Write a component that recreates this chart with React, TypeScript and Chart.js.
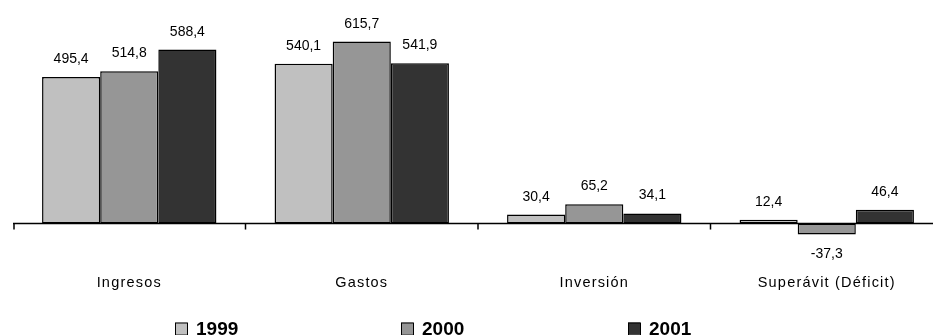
import React, { useEffect, useRef } from "react";
import { Chart, registerables } from "chart.js";

Chart.register(...registerables);

const categories = ["Ingresos", "Gastos", "Inversión", "Superávit (Déficit)"];
const seriesNames = ["1999", "2000", "2001"];
const values1999 = [495.4, 540.1, 30.4, 12.4];
const values2000 = [514.8, 615.7, 65.2, -37.3];
const values2001 = [588.4, 541.9, 34.1, 46.4];
const seriesColors = ["#C0C0C0", "#969696", "#333333"];

const FONT = '"Liberation Sans", Arial, sans-serif';

const fmt = (v: number) => v.toFixed(1).replace(".", ",");

const customPlugin = {
  id: "customDraw",
  afterDatasetsDraw(chart: any) {
    const ctx = chart.ctx as CanvasRenderingContext2D;
    const area = chart.chartArea;
    const yScale = chart.scales.y;
    const xScale = chart.scales.x;
    const zeroY = yScale.getPixelForValue(0);

    ctx.save();
    // axis line
    ctx.strokeStyle = "#000";
    ctx.lineWidth = 1.5;
    ctx.beginPath();
    ctx.moveTo(area.left, zeroY);
    ctx.lineTo(chart.width, zeroY);
    ctx.stroke();
    // tick marks at category boundaries
    const n = categories.length;
    for (let i = 0; i < n; i++) {
      const bx =
        i === 0
          ? area.left + 1
          : (xScale.getPixelForTick(i - 1) + xScale.getPixelForTick(i)) / 2;
      ctx.beginPath();
      ctx.moveTo(bx, zeroY);
      ctx.lineTo(bx, zeroY + 6);
      ctx.stroke();
    }

    // value labels
    ctx.fillStyle = "#000";
    ctx.font = `14px ${FONT}`;
    ctx.textAlign = "center";
    ctx.textBaseline = "alphabetic";
    chart.data.datasets.forEach((ds: any, di: number) => {
      const meta = chart.getDatasetMeta(di);
      meta.data.forEach((bar: any, i: number) => {
        const v = ds.data[i] as number;
        if (v >= 0) {
          ctx.fillText(fmt(v), bar.x, bar.y - 14);
        } else {
          ctx.fillText(fmt(v), bar.x, bar.y + 23);
        }
      });
    });

    // category labels
    ctx.font = `14.5px ${FONT}`;
    (ctx as any).letterSpacing = "1.2px";
    categories.forEach((c, i) => {
      const cx = xScale.getPixelForTick(i);
      ctx.fillText(c, cx, zeroY + 63);
    });
    (ctx as any).letterSpacing = "0px";

    // legend
    const legendX = [175, 401, 628];
    const legendBaseline = chart.height;
    seriesNames.forEach((name, i) => {
      const x = legendX[i];
      ctx.fillStyle = seriesColors[i];
      ctx.fillRect(x, legendBaseline - 12.5, 12, 12);
      ctx.strokeStyle = "#000";
      ctx.lineWidth = 1;
      ctx.strokeRect(x + 0.5, legendBaseline - 12, 12, 12);
      ctx.fillStyle = "#000";
      ctx.font = `bold 19px ${FONT}`;
      ctx.textAlign = "left";
      ctx.fillText(name, x + 21, legendBaseline);
    });
    ctx.restore();
  },
};

export default function App() {
  const ref = useRef<HTMLCanvasElement | null>(null);
  useEffect(() => {
    if (!ref.current) return;
    const seriesValues = [values1999, values2000, values2001];
    const chart = new Chart(ref.current, {
      type: "bar",
      data: {
        labels: categories,
        datasets: seriesNames.map((name, i) => ({
          label: name,
          data: seriesValues[i],
          backgroundColor: seriesColors[i],
          borderColor: "#000",
          borderWidth: 1.5,
          borderSkipped: false,
          barPercentage: 1,
          categoryPercentage: 0.75,
        })),
      },
      options: {
        responsive: false,
        animation: false,
        devicePixelRatio: 1,
        layout: { padding: { left: 13, right: 0, top: 16.6, bottom: 81.9 } },
        plugins: {
          legend: { display: false },
          tooltip: { enabled: false },
        },
        scales: {
          x: { display: false },
          y: { display: false, min: -100, max: 700 },
        },
      },
      plugins: [customPlugin],
    });
    return () => chart.destroy();
  }, []);
  return (
    <div
      style={{
        position: "absolute",
        left: 0,
        top: 0,
        width: 933,
        height: 335,
        overflow: "hidden",
      }}
    >
      <canvas ref={ref} width={943} height={335} style={{ display: "block" }} />
    </div>
  );
}
